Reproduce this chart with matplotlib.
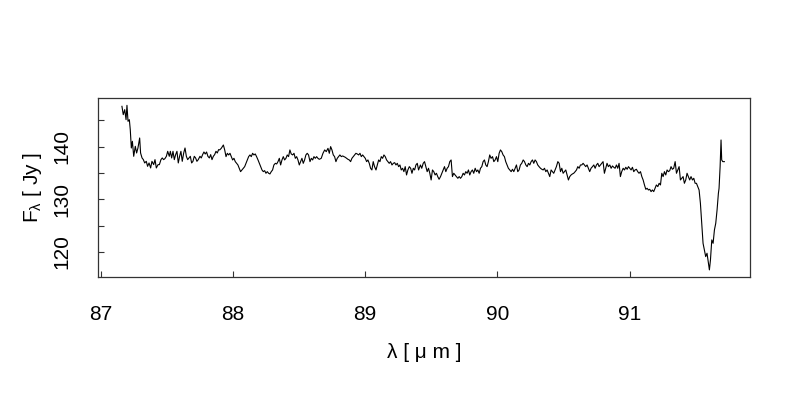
import matplotlib
matplotlib.use("Agg")
import matplotlib.pyplot as plt
from matplotlib.ticker import MultipleLocator
import numpy as np

plt.rcParams['font.family'] = ['Liberation Sans', 'DejaVu Sans']
plt.rcParams['mathtext.default'] = 'regular'

# spectrum in pieces (wavelength in micron, flux in Jy)
wl_a = [87.161, 87.171, 87.182, 87.192, 87.199, 87.207, 87.217, 87.224, 87.232, 87.240,
        87.250, 87.262, 87.272, 87.282, 87.295, 87.302, 87.313, 87.323, 87.333, 87.345,
        87.355, 87.366, 87.378, 87.388, 87.401, 87.411, 87.421, 87.434, 87.444, 87.456,
        87.466, 87.476, 87.486, 87.497, 87.507, 87.519, 87.527, 87.537, 87.547, 87.557,
        87.567, 87.577, 87.587, 87.597, 87.607, 87.617, 87.628, 87.638, 87.648, 87.658,
        87.668, 87.678, 87.688, 87.698, 87.708, 87.718, 87.728, 87.738, 87.751, 87.761,
        87.771, 87.781, 87.791, 87.801, 87.811, 87.822, 87.832, 87.842, 87.852, 87.862,
        87.872, 87.882, 87.892]
flux_a = [147.66, 146.08, 147.03, 145.13, 147.85, 144.81, 145.13, 143.23, 139.75, 141.02,
          138.17, 140.07, 138.80, 139.75, 141.65, 138.80, 137.86, 137.54, 136.91, 137.22,
          136.27, 136.91, 135.96, 137.22, 136.59, 137.54, 135.96, 136.59, 136.59, 137.54,
          137.86, 137.54, 137.73, 138.17, 139.12, 138.17, 139.12, 137.86, 139.12, 137.54,
          138.49, 139.12, 136.91, 138.17, 139.12, 137.22, 138.80, 139.75, 138.17, 137.54,
          137.86, 138.17, 136.91, 137.22, 138.17, 137.86, 137.22, 137.54, 138.17, 137.86,
          138.49, 138.99, 138.61, 138.99, 138.17, 137.86, 138.49, 137.54, 138.17, 138.49,
          139.12, 138.80, 139.44]

wl_b = [87.900, 87.912, 87.928, 87.938, 87.948, 87.958, 87.968, 87.978, 87.988, 87.998,
        88.008, 88.018, 88.028, 88.038, 88.048, 88.058, 88.069, 88.079, 88.089, 88.099,
        88.109, 88.119, 88.129, 88.139, 88.149, 88.159, 88.169, 88.179, 88.190, 88.200,
        88.210, 88.220, 88.230, 88.240, 88.250, 88.260, 88.270, 88.280, 88.290, 88.300,
        88.310, 88.321, 88.331, 88.341, 88.351, 88.361, 88.371, 88.381, 88.391, 88.401,
        88.411, 88.421, 88.431, 88.441, 88.452, 88.462, 88.472, 88.482, 88.492, 88.502,
        88.512, 88.522, 88.532, 88.542, 88.552, 88.562, 88.572, 88.583, 88.593, 88.603,
        88.613, 88.623, 88.633, 88.643, 88.653]
flux_b = [139.38, 139.69, 140.32, 139.38, 138.11, 138.74, 138.43, 138.74, 138.11, 137.48,
          137.79, 137.16, 136.84, 136.53, 135.90, 135.26, 135.58, 135.90, 136.21, 136.84,
          137.48, 138.11, 138.43, 138.11, 138.74, 138.43, 138.62, 138.11, 137.48, 136.84,
          136.21, 135.58, 135.26, 135.45, 134.95, 135.26, 134.95, 134.82, 135.26, 135.58,
          136.53, 136.84, 136.72, 137.16, 137.79, 136.53, 137.48, 138.11, 137.48, 137.79,
          138.43, 138.11, 139.38, 138.62, 138.43, 138.74, 137.79, 138.11, 137.48, 136.53,
          137.16, 137.79, 136.84, 137.48, 138.43, 138.74, 138.43, 137.16, 137.79, 137.48,
          138.11, 137.79, 138.11, 137.79, 137.60]

wl_c = [88.668, 88.681, 88.694, 88.706, 88.719, 88.729, 88.739, 88.749, 88.759, 88.769,
        88.779, 88.789, 88.799, 88.809, 88.820, 88.830, 88.840, 88.850, 88.860, 88.870,
        88.880, 88.890, 88.900, 88.910, 88.920, 88.930, 88.940, 88.951, 88.961, 88.971,
        88.981, 88.991, 89.001, 89.011, 89.021, 89.031, 89.041, 89.051, 89.061, 89.071,
        89.082, 89.092, 89.102, 89.112, 89.122, 89.132, 89.142, 89.152, 89.162, 89.172,
        89.182, 89.192, 89.203, 89.213, 89.223, 89.233, 89.243, 89.253, 89.263, 89.273,
        89.283, 89.293, 89.303, 89.313, 89.323, 89.334, 89.344, 89.354, 89.364, 89.374,
        89.384, 89.394, 89.404]
flux_c = [137.79, 138.74, 139.38, 139.06, 139.69, 138.74, 140.01, 139.38, 138.43, 138.11,
          137.16, 137.79, 138.11, 138.43, 138.11, 138.24, 138.11, 137.98, 137.79, 137.60,
          137.48, 137.16, 137.79, 138.11, 138.43, 138.74, 138.62, 138.43, 138.74, 138.11,
          138.43, 138.11, 137.79, 137.16, 137.48, 136.84, 135.90, 135.58, 137.16, 136.21,
          135.58, 136.53, 137.48, 137.16, 138.11, 137.79, 138.43, 138.11, 137.48, 137.16,
          136.84, 137.16, 136.53, 136.84, 136.97, 136.53, 136.84, 136.21, 136.53, 135.58,
          135.90, 135.26, 136.21, 134.63, 135.58, 136.21, 135.90, 134.95, 135.90, 135.58,
          136.53, 136.84, 135.58]

wl_d = [89.418, 89.428, 89.439, 89.449, 89.459, 89.469, 89.479, 89.489, 89.499, 89.509,
        89.519, 89.529, 89.539, 89.549, 89.559, 89.570, 89.580, 89.590, 89.600, 89.610,
        89.620, 89.630, 89.640, 89.650, 89.660, 89.670, 89.680, 89.690, 89.701, 89.711,
        89.721, 89.731, 89.741, 89.751, 89.761, 89.771, 89.781, 89.791, 89.801, 89.811,
        89.821, 89.832, 89.842, 89.852, 89.862, 89.872, 89.882, 89.892, 89.902, 89.912,
        89.922, 89.932, 89.942, 89.952, 89.963, 89.973, 89.983, 89.993, 90.003, 90.013,
        90.023, 90.033, 90.043, 90.053, 90.063, 90.073, 90.083, 90.094, 90.104, 90.114,
        90.124, 90.134, 90.144, 90.154]
flux_d = [136.53, 135.90, 136.84, 137.16, 136.21, 135.26, 135.90, 134.95, 133.68, 135.58,
          135.26, 134.63, 134.95, 134.32, 133.81, 134.32, 134.95, 135.58, 136.21, 135.26,
          135.90, 136.21, 137.16, 137.48, 134.32, 134.95, 134.63, 134.32, 134.00, 134.32,
          134.00, 134.32, 134.95, 134.63, 135.26, 134.95, 135.58, 134.63, 135.26, 135.58,
          134.95, 135.90, 135.26, 135.58, 134.95, 135.90, 136.21, 137.16, 137.48, 136.53,
          136.21, 137.16, 138.43, 137.79, 138.11, 137.16, 137.48, 138.11, 137.16, 138.74,
          139.38, 139.06, 138.43, 138.11, 137.16, 136.53, 135.90, 135.58, 135.26, 135.71,
          135.26, 135.90, 136.53, 135.26]

wl_e = [90.164, 90.174, 90.184, 90.195, 90.205, 90.215, 90.225, 90.235, 90.245, 90.255,
        90.265, 90.275, 90.285, 90.295, 90.305, 90.315, 90.326, 90.336, 90.346, 90.356,
        90.366, 90.376, 90.386, 90.396, 90.406, 90.416, 90.426, 90.436, 90.446, 90.457,
        90.467, 90.477, 90.487, 90.497, 90.507, 90.517, 90.527, 90.537, 90.547, 90.557,
        90.567, 90.577, 90.588, 90.598, 90.608, 90.618, 90.628, 90.638, 90.648, 90.658,
        90.668, 90.678, 90.688, 90.698, 90.708, 90.719, 90.729, 90.739, 90.749, 90.759,
        90.769, 90.779, 90.789, 90.799, 90.809, 90.819, 90.829, 90.839, 90.850, 90.860,
        90.870, 90.880, 90.890, 90.900, 90.910]
flux_e = [135.58, 136.53, 136.84, 137.48, 137.16, 136.53, 136.21, 136.84, 136.53, 137.16,
          137.48, 136.84, 137.48, 137.16, 136.53, 136.21, 135.90, 135.71, 135.58, 135.90,
          135.26, 135.58, 134.95, 134.32, 135.58, 135.26, 134.95, 135.58, 136.21, 137.16,
          136.84, 135.26, 135.90, 134.95, 135.26, 135.58, 134.63, 133.68, 134.32, 134.63,
          134.82, 134.95, 135.26, 135.58, 136.21, 135.90, 136.53, 136.53, 136.84, 136.53,
          136.21, 136.53, 135.90, 135.26, 135.90, 136.21, 136.53, 135.90, 136.53, 136.84,
          136.21, 136.53, 136.84, 137.16, 134.95, 135.90, 136.84, 136.21, 136.53, 135.90,
          136.34, 136.09, 135.90, 136.53, 135.90]

wl_f = [90.920, 90.930, 90.940, 90.951, 90.961, 90.971, 90.981, 90.991, 91.001, 91.011,
        91.021, 91.031, 91.041, 91.051, 91.061, 91.071, 91.082, 91.092, 91.102, 91.112,
        91.122, 91.132, 91.142, 91.152, 91.162, 91.172, 91.182, 91.192, 91.202, 91.213,
        91.223, 91.233, 91.243, 91.253, 91.263, 91.273, 91.283, 91.293, 91.303, 91.313,
        91.323, 91.333, 91.344, 91.354, 91.364, 91.374, 91.384, 91.394, 91.404, 91.414,
        91.424, 91.434, 91.444, 91.454, 91.464, 91.475, 91.485, 91.495, 91.505, 91.515,
        91.525, 91.535, 91.545, 91.555, 91.565, 91.575, 91.585, 91.596, 91.603, 91.611,
        91.621, 91.631, 91.641, 91.651, 91.661, 91.671, 91.676, 91.684, 91.691, 91.696,
        91.704, 91.716]
flux_f = [136.84, 134.32, 135.26, 135.90, 135.58, 136.09, 135.71, 136.21, 135.90, 135.58,
          136.09, 135.26, 135.58, 135.71, 135.26, 134.95, 135.26, 134.32, 133.68, 132.73,
          131.91, 132.10, 131.78, 131.91, 131.47, 131.78, 131.47, 132.10, 132.73, 132.42,
          133.05, 132.73, 134.95, 134.32, 135.26, 134.63, 135.58, 135.26, 135.45, 136.21,
          135.71, 135.90, 137.16, 134.95, 135.58, 136.21, 133.68, 134.00, 134.32, 133.05,
          133.68, 134.95, 134.32, 133.68, 134.32, 133.68, 134.00, 133.05, 133.05, 132.42,
          131.78, 129.26, 125.46, 121.66, 120.40, 119.13, 119.77, 117.87, 116.61, 118.50,
          122.30, 121.66, 124.19, 125.46, 127.99, 131.15, 132.10, 136.21, 141.27, 137.48,
          137.16, 137.16]

wl = np.concatenate([wl_a, wl_b, wl_c, wl_d, wl_e, wl_f])
flux = np.concatenate([flux_a, flux_b, flux_c, flux_d, flux_e, flux_f])

fig = plt.figure(figsize=(8, 4), dpi=100)
ax = fig.add_axes([0.1225, 0.3075, 0.815, 0.4475])

ax.plot(wl, flux, color='black', lw=0.8)

ax.set_xlim(86.98, 91.91)
ax.set_ylim(115.26, 149.24)
ax.xaxis.set_major_locator(MultipleLocator(1))
ax.yaxis.set_major_locator(MultipleLocator(10))
ax.yaxis.set_minor_locator(MultipleLocator(5))

for s in ax.spines.values():
    s.set_color('#333333')
    s.set_linewidth(0.9)

ax.tick_params(axis='both', which='both', direction='in', length=4, width=0.8,
               color='#333333', labelsize=15)
ax.tick_params(axis='x', pad=20)
ax.tick_params(axis='y', pad=19)
for lab in ax.get_yticklabels():
    lab.set_rotation(90)
    lab.set_va('center')

ax.set_xlabel('λ [ μ m ]', fontsize=15, labelpad=14)
ax.set_ylabel('F$_{λ}$ [ Jy ]', fontsize=15, labelpad=6)

fig.savefig('out.png', dpi=100)
